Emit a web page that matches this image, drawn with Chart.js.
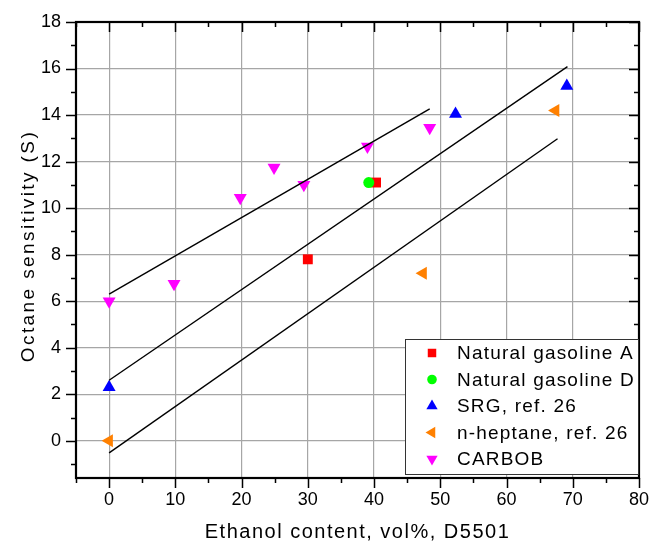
<!DOCTYPE html>
<html><head><meta charset="utf-8">
<script src="https://cdn.jsdelivr.net/npm/chart.js@4/dist/chart.umd.min.js"></script>
<style>html,body{margin:0;padding:0;background:#fff}#wrap{width:651px;height:544px}</style>
</head><body><div id="wrap"><canvas id="c" width="651" height="544"></canvas></div>
<script>
// ---- data ----
const xTickLabels = [0, 10, 20, 30, 40, 50, 60, 70, 80];
const yTickLabels = [0, 2, 4, 6, 8, 10, 12, 14, 16, 18];
const xMinorTicks = [-5, 0, 5, 10, 15, 20, 25, 30, 35, 40, 45, 50, 55, 60, 65, 70, 75, 80];
const yMinorTicks = [-1, 0, 1, 2, 3, 4, 5, 6, 7, 8, 9, 10, 11, 12, 13, 14, 15, 16, 17, 18];
const xGridValues = [0, 10, 20, 30, 40, 50, 60, 70];
const yGridValues = [0, 2, 4, 6, 8, 10, 12, 14, 16];

const seriesNames = ['Natural gasoline A', 'Natural gasoline D', 'SRG, ref. 26', 'n-heptane, ref. 26', 'CARBOB'];
const gasA_x = [30.0, 40.3];
const gasA_y = [7.8, 11.1];
const gasD_x = [39.2];
const gasD_y = [11.1];
const srg_x = [0, 52.3, 69.1];
const srg_y = [2.3, 14.05, 15.25];
const hept_x = [0, 47.4, 67.4];
const hept_y = [0, 7.2, 14.2];
const carbob_x = [0, 9.8, 19.8, 24.9, 29.4, 39.0, 48.4];
const carbob_y = [6.0, 6.75, 10.45, 11.75, 11.0, 12.65, 13.45];

const fit1_x = [0, 48.4];
const fit1_y = [6.3, 14.27];
const fit2_x = [0, 69.2];
const fit2_y = [2.6, 16.08];
const fit3_x = [0, 67.7];
const fit3_y = [-0.52, 12.98];

const pts = (xs, ys) => xs.map((x, i) => ({x: x, y: ys[i]}));

Chart.defaults.font.family = '"Liberation Sans", Arial, sans-serif';
Chart.defaults.color = '#000';

const markerSets = [
  {label: seriesNames[0], data: pts(gasA_x, gasA_y), pointStyle: 'rect', pointRadius: 7, backgroundColor: '#ff0000', order: 2, legendR: 6},
  {label: seriesNames[1], data: pts(gasD_x, gasD_y), pointStyle: 'circle', pointRadius: 5.5, backgroundColor: '#00ff00', order: 1, legendR: 4.8},
  {label: seriesNames[2], data: pts(srg_x, srg_y), pointStyle: 'triangle', pointRadius: 7.5, rotation: 0, backgroundColor: '#0000ff', order: 3, legendR: 6.5},
  {label: seriesNames[3], data: pts(hept_x, hept_y), pointStyle: 'triangle', pointRadius: 7.5, rotation: 270, backgroundColor: '#ff8000', order: 4, legendR: 6.5},
  {label: seriesNames[4], data: pts(carbob_x, carbob_y), pointStyle: 'triangle', pointRadius: 7.5, rotation: 180, backgroundColor: '#ff00ff', order: 5, legendR: 6.5}
].map(d => Object.assign({type: 'scatter', borderWidth: 0, borderColor: d.backgroundColor, showLine: false}, d));

const lineSets = [pts(fit1_x, fit1_y), pts(fit2_x, fit2_y), pts(fit3_x, fit3_y)].map(p => ({
  type: 'line', label: '', data: p, borderColor: '#000', borderWidth: 1.4, pointRadius: 0, fill: false, order: 0, isFit: true
}));

const framePlugin = {
  id: 'frame',
  afterDraw(chart) {
    const ctx = chart.ctx, a = chart.chartArea;
    const xs = chart.scales.x, ys = chart.scales.y;
    ctx.save();
    ctx.strokeStyle = '#000';
    ctx.lineWidth = 1.5;
    ctx.beginPath();
    xMinorTicks.forEach(v => {
      const px = Math.round(xs.getPixelForValue(v)) + 0.5;
      const len = xTickLabels.includes(v) ? 10 : 5;
      ctx.moveTo(px, a.bottom); ctx.lineTo(px, a.bottom + len);
      ctx.moveTo(px, a.top); ctx.lineTo(px, a.top + len);
    });
    yMinorTicks.forEach(v => {
      const py = Math.round(ys.getPixelForValue(v)) + 0.5;
      const len = yTickLabels.includes(v) ? 10 : 5;
      ctx.moveTo(a.left, py); ctx.lineTo(a.left - len, py);
      ctx.moveTo(a.right, py); ctx.lineTo(a.right - len, py);
    });
    ctx.stroke();
    ctx.lineWidth = 2.2;
    ctx.strokeRect(a.left, a.top, a.right - a.left, a.bottom - a.top);

    // axis titles
    ctx.fillStyle = '#000';
    ctx.textAlign = 'center';
    ctx.textBaseline = 'middle';
    ctx.font = '20px "Liberation Sans", Arial, sans-serif';
    try { ctx.letterSpacing = '1.5px'; } catch (e) {}
    ctx.fillText('Ethanol content, vol%, D5501', (a.left + a.right) / 2, 532);
    ctx.save();
    ctx.translate(29, (a.top + a.bottom) / 2 - 4);
    ctx.rotate(-Math.PI / 2);
    ctx.font = '19px "Liberation Sans", Arial, sans-serif';
    try { ctx.letterSpacing = '2.4px'; } catch (e) {}
    ctx.fillText('Octane sensitivity (S)', 0, 0);
    ctx.restore();

    // legend
    const w = 233, h = 135;
    const lx = a.right - 1 - w, ly = a.bottom - 4 - h;
    ctx.fillStyle = '#fff';
    ctx.fillRect(lx, ly, w, h);
    ctx.strokeStyle = '#333';
    ctx.lineWidth = 1;
    ctx.strokeRect(lx + 0.5, ly + 0.5, w, h);
    ctx.font = '19px "Liberation Sans", Arial, sans-serif';
    try { ctx.letterSpacing = '1.2px'; } catch (e) {}
    ctx.textAlign = 'left';
    ctx.textBaseline = 'middle';
    markerSets.forEach((d, i) => {
      const cy = ly + 14 + i * 26.5;
      ctx.fillStyle = d.backgroundColor;
      ctx.strokeStyle = d.backgroundColor;
      Chart.helpers.drawPoint(ctx, {pointStyle: d.pointStyle, rotation: d.rotation || 0, radius: d.legendR, borderWidth: 0}, lx + 27, cy);
      ctx.fillStyle = '#000';
      ctx.fillText(d.label, lx + 52, cy + 1);
    });
    ctx.restore();
  }
};

new Chart(document.getElementById('c'), {
  type: 'scatter',
  data: {datasets: lineSets.concat(markerSets)},
  options: {
    responsive: false,
    animation: false,
    events: [],
    layout: {padding: {top: 22, right: 12, left: 0, bottom: 0}},
    plugins: {legend: {display: false}, tooltip: {enabled: false}},
    scales: {
      x: {
        type: 'linear', min: -5, max: 80,
        afterBuildTicks: s => { s.ticks = xMinorTicks.map(v => ({value: v})); },
        afterFit: s => { s.height = 66; s.paddingLeft = 0; s.paddingRight = 0; },
        ticks: {
          autoSkip: false, maxRotation: 0, padding: 11,
          font: {size: 18},
          callback: v => xTickLabels.includes(v) ? String(v) : ''
        },
        grid: {
          drawTicks: false, lineWidth: 1.2,
          color: c => (c.tick && xGridValues.includes(c.tick.value)) ? '#a6a6a6' : 'rgba(0,0,0,0)'
        },
        border: {display: false}
      },
      y: {
        type: 'linear', min: -1.6, max: 18,
        afterBuildTicks: s => { s.ticks = yMinorTicks.map(v => ({value: v})); },
        afterFit: s => { s.width = 76; s.paddingTop = 0; s.paddingBottom = 0; },
        ticks: {
          autoSkip: false, padding: 15,
          font: {size: 18},
          callback: v => yTickLabels.includes(v) ? String(v) : ''
        },
        grid: {
          drawTicks: false, lineWidth: 1.2,
          color: c => (c.tick && yGridValues.includes(c.tick.value)) ? '#a6a6a6' : 'rgba(0,0,0,0)'
        },
        border: {display: false}
      }
    }
  },
  plugins: [framePlugin]
});
</script>
</body></html>
